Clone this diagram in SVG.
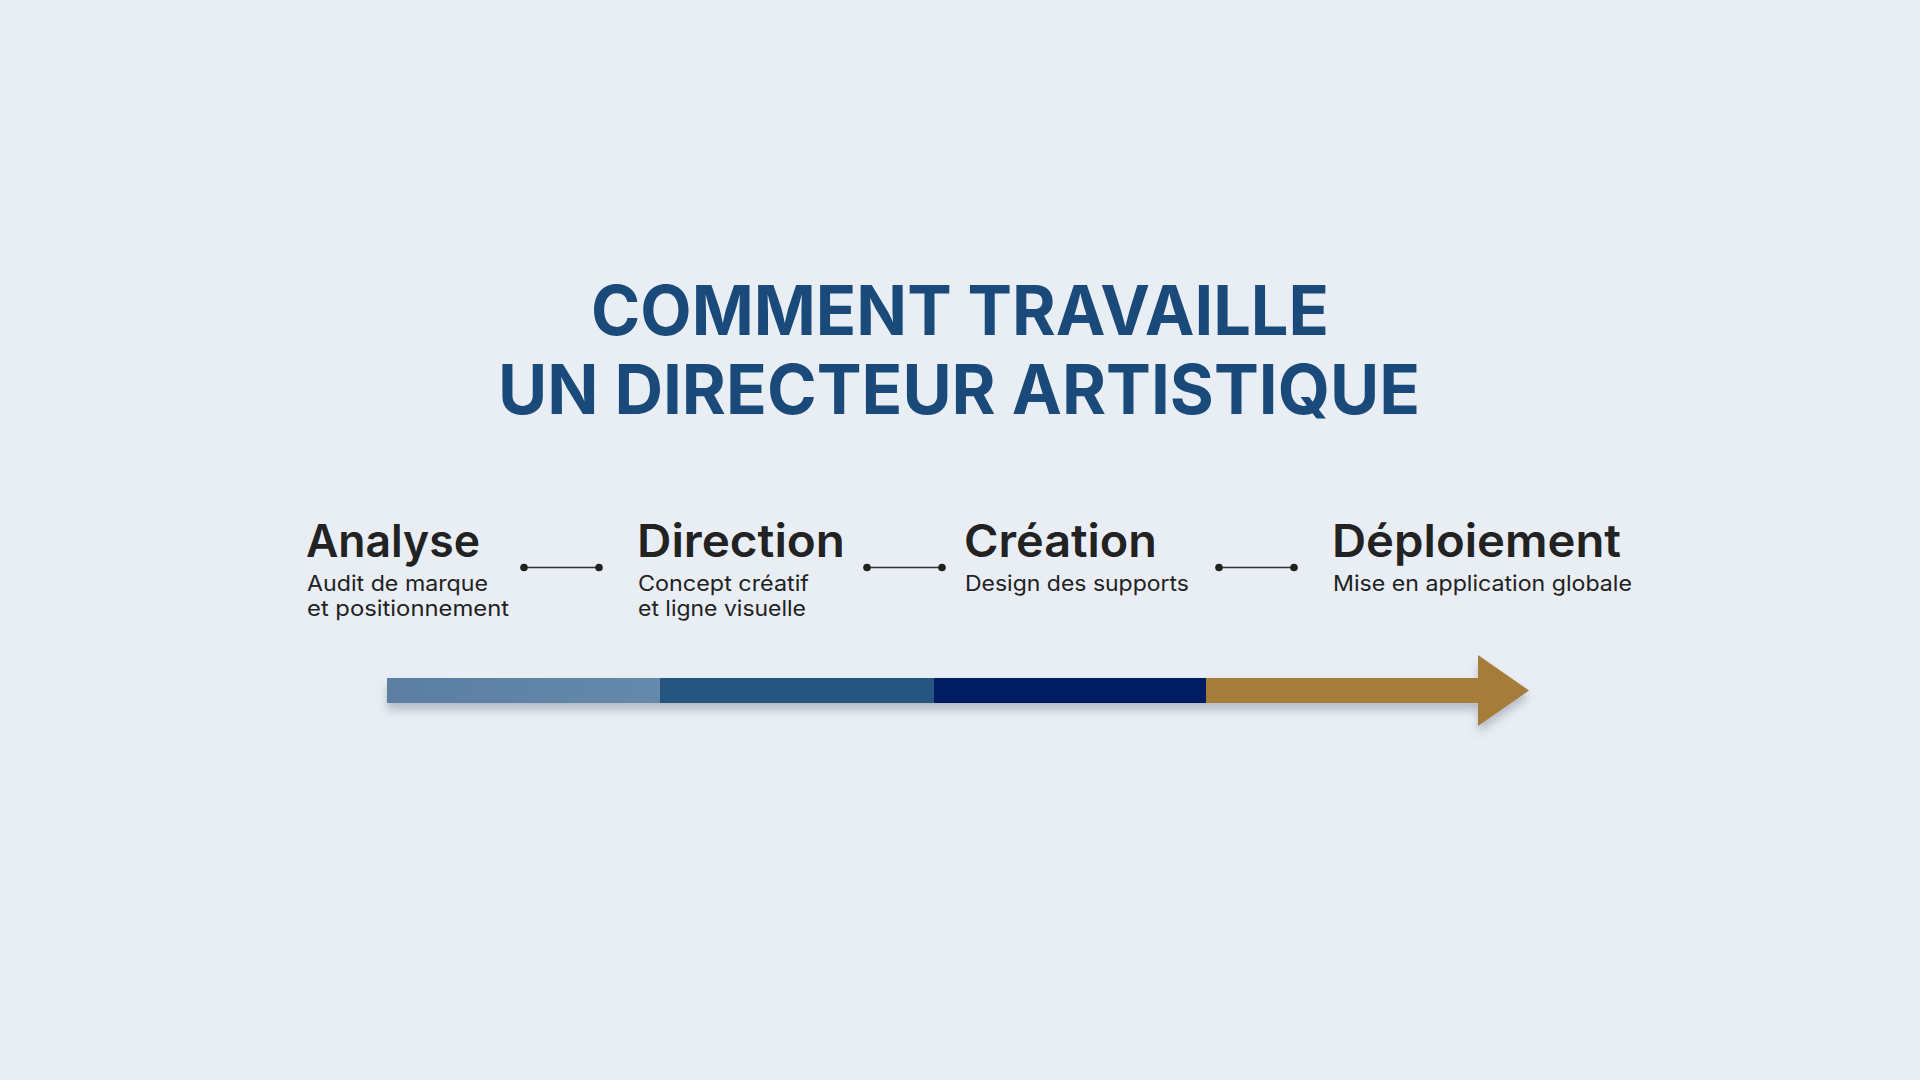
<svg xmlns="http://www.w3.org/2000/svg" width="1920" height="1080" viewBox="0 0 1920 1080">
  <defs>
    <filter id="shadow" x="-5%" y="-50%" width="110%" height="200%">
      <feDropShadow dx="0" dy="7" stdDeviation="4" flood-color="#5a6470" flood-opacity="0.35"/>
    </filter>
    <linearGradient id="g1" x1="0" y1="0" x2="1" y2="0">
      <stop offset="0" stop-color="#5a7fa3"/>
      <stop offset="1" stop-color="#6589aa"/>
    </linearGradient>
  </defs>
  <style>
    .title { font-family: Inter, "Liberation Sans", sans-serif; font-weight: 700; font-size: 69px; fill: #1a4a79; text-anchor: middle; }
    .step { font-family: Inter, "Liberation Sans", sans-serif; font-weight: 600; font-size: 45px; fill: #222222; }
    .sub { font-family: Inter, "Liberation Sans", sans-serif; font-weight: 400; font-size: 21.5px; fill: #222222; }
    .conn line { stroke: #333333; stroke-width: 1.6; }
    .conn circle { fill: #222222; }
  </style>
  <rect width="1920" height="1080" fill="#e9eef5"/>

  <g id="title">
    <text class="title" x="960" y="335" textLength="738" lengthAdjust="spacingAndGlyphs">COMMENT TRAVAILLE</text>
    <text class="title" x="959" y="414" textLength="922" lengthAdjust="spacingAndGlyphs">UN DIRECTEUR ARTISTIQUE</text>
  </g>

  <g id="step-analyse">
    <text class="step" x="306" y="557" textLength="174" lengthAdjust="spacingAndGlyphs">Analyse</text>
    <text class="sub" x="307" y="591" textLength="181" lengthAdjust="spacingAndGlyphs">Audit de marque</text>
    <text class="sub" x="307" y="616" textLength="202" lengthAdjust="spacingAndGlyphs">et positionnement</text>
  </g>
  <g id="step-direction">
    <text class="step" x="637" y="557" textLength="208" lengthAdjust="spacingAndGlyphs">Direction</text>
    <text class="sub" x="638" y="591" textLength="171" lengthAdjust="spacingAndGlyphs">Concept créatif</text>
    <text class="sub" x="638" y="616" textLength="168" lengthAdjust="spacingAndGlyphs">et ligne visuelle</text>
  </g>
  <g id="step-creation">
    <text class="step" x="964" y="557" textLength="193" lengthAdjust="spacingAndGlyphs">Création</text>
    <text class="sub" x="965" y="591" textLength="224" lengthAdjust="spacingAndGlyphs">Design des supports</text>
  </g>
  <g id="step-deploiement">
    <text class="step" x="1332" y="557" textLength="289" lengthAdjust="spacingAndGlyphs">Déploiement</text>
    <text class="sub" x="1333" y="591" textLength="299" lengthAdjust="spacingAndGlyphs">Mise en application globale</text>
  </g>

  <g id="connectors" class="conn">
    <line x1="524" y1="567.5" x2="599" y2="567.5"/>
    <circle cx="524" cy="567.5" r="3.8"/>
    <circle cx="599" cy="567.5" r="3.8"/>
    <line x1="867" y1="567.5" x2="942" y2="567.5"/>
    <circle cx="867" cy="567.5" r="3.8"/>
    <circle cx="942" cy="567.5" r="3.8"/>
    <line x1="1219" y1="567.5" x2="1294" y2="567.5"/>
    <circle cx="1219" cy="567.5" r="3.8"/>
    <circle cx="1294" cy="567.5" r="3.8"/>
  </g>

  <g id="timeline-arrow" filter="url(#shadow)">
    <rect x="387" y="678" width="274" height="25" fill="url(#g1)"/>
    <rect x="660" y="678" width="275" height="25" fill="#27557f"/>
    <rect x="934" y="678" width="273" height="25" fill="#061e62"/>
    <polygon points="1206,678 1478,678 1478,655 1529,690.5 1478,726 1478,703 1206,703" fill="#a67c3a"/>
  </g>
</svg>
